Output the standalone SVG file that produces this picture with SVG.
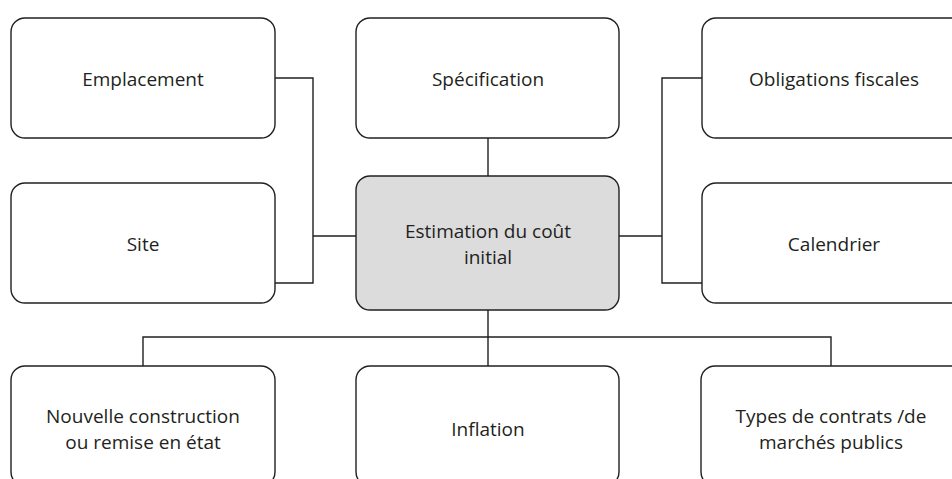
<svg xmlns="http://www.w3.org/2000/svg" width="952" height="479" viewBox="0 0 952 479">
  <style>
    .box { fill: #ffffff; stroke: #231f20; stroke-width: 1.4; }
    .core { fill: #dcdcdd; }
    .lbl { font-family: "Open Sans", "Noto Sans", sans-serif; font-size: 19px; fill: #231f20; text-anchor: middle; font-variant-ligatures: none; }
    .wire { fill: none; stroke: #231f20; stroke-width: 1.4; }
  </style>
  <rect width="952" height="479" fill="#ffffff"/>

  <g id="connectors">
    <path class="wire" d="M275,78 H313 V283 H275 M313,236 H357"/>
    <path class="wire" d="M488,138 V176"/>
    <path class="wire" d="M619,236 H662 M702,78 H662 V283 H702"/>
    <path class="wire" d="M488,310 V366 M143,366 V337 H831 V366"/>
  </g>

  <g id="emplacement">
    <rect class="box" x="11" y="18" width="264" height="120" rx="14"/>
    <text class="lbl" x="143" y="86">Emplacement</text>
  </g>
  <g id="site">
    <rect class="box" x="11" y="183" width="264" height="120" rx="14"/>
    <text class="lbl" x="143" y="251">Site</text>
  </g>
  <g id="specification">
    <rect class="box" x="356" y="18" width="263" height="120" rx="14"/>
    <text class="lbl" x="488" y="86">Spécification</text>
  </g>
  <g id="estimation">
    <rect class="box core" x="356" y="176" width="263" height="134" rx="14"/>
    <text class="lbl" x="488" y="238">Estimation du coût</text>
    <text class="lbl" x="488" y="264">initial</text>
  </g>
  <g id="obligations">
    <rect class="box" x="702" y="18" width="270" height="120" rx="14"/>
    <text class="lbl" x="834" y="86">Obligations fiscales</text>
  </g>
  <g id="calendrier">
    <rect class="box" x="702" y="183" width="270" height="120" rx="14"/>
    <text class="lbl" x="834" y="251">Calendrier</text>
  </g>
  <g id="nouvelle">
    <rect class="box" x="11" y="366" width="264" height="120" rx="14"/>
    <text class="lbl" x="143" y="423">Nouvelle construction</text>
    <text class="lbl" x="143" y="449">ou remise en état</text>
  </g>
  <g id="inflation">
    <rect class="box" x="356" y="366" width="263" height="120" rx="14"/>
    <text class="lbl" x="488" y="436">Inflation</text>
  </g>
  <g id="types">
    <rect class="box" x="701" y="366" width="270" height="120" rx="14"/>
    <text class="lbl" x="831" y="423">Types de contrats /de</text>
    <text class="lbl" x="831" y="449">marchés publics</text>
  </g>
</svg>
